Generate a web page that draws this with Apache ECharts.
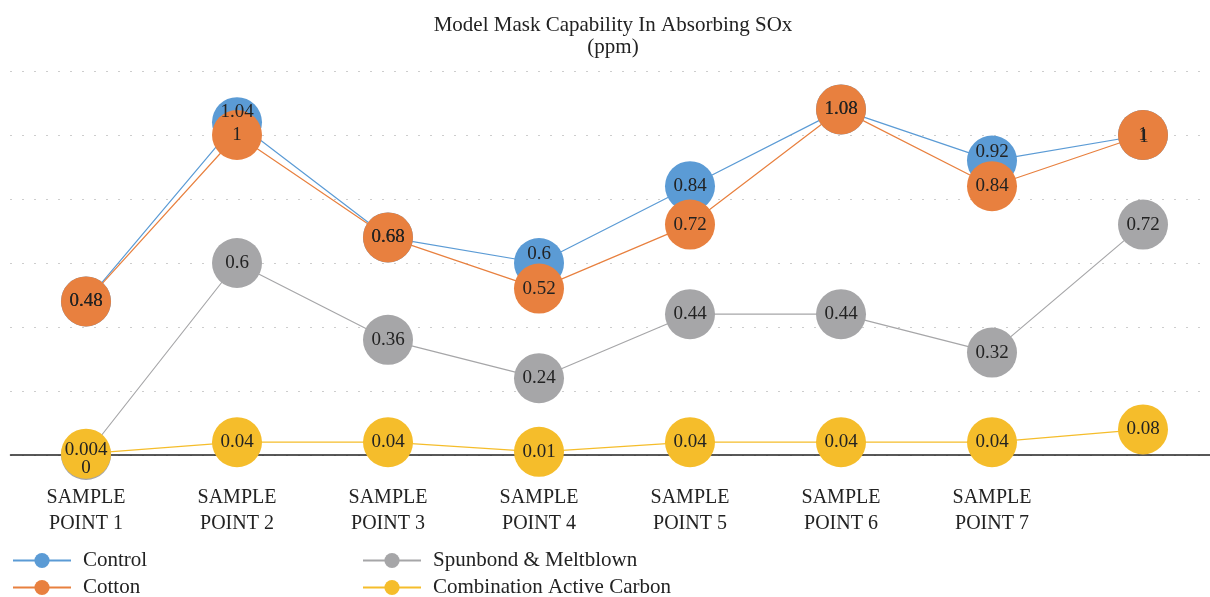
<!DOCTYPE html>
<html>
<head>
<meta charset="utf-8">
<script src="https://cdn.jsdelivr.net/npm/echarts@6/dist/echarts.min.js"></script>
<style>
    html, body { margin: 0; padding: 0; background: #fff; overflow: hidden; }
    #chart { width: 1226px; height: 597px; }
</style>
</head>
<body>
<div id="chart"></div>
<script>
    // categories (last point has no axis label)
    let categories = ['SAMPLE\nPOINT 1', 'SAMPLE\nPOINT 2', 'SAMPLE\nPOINT 3', 'SAMPLE\nPOINT 4',
        'SAMPLE\nPOINT 5', 'SAMPLE\nPOINT 6', 'SAMPLE\nPOINT 7', ''];

    let control = [0.48, 1.04, 0.68, 0.6, 0.84, 1.08, 0.92, 1];
    let cotton = [0.48, 1, 0.68, 0.52, 0.72, 1.08, 0.84, 1];
    let spunbond = [0, 0.6, 0.36, 0.24, 0.44, 0.44, 0.32, 0.72];
    let carbon = [0.004, 0.04, 0.04, 0.01, 0.04, 0.04, 0.04, 0.08];

    let seriesNames = ['Control', 'Cotton', 'Spunbond & Meltblown', 'Combination Active Carbon'];
    let seriesColors = ['#5b9bd5', '#e8803f', '#a6a6a8', '#f5bd2b'];

    let font = '"Liberation Serif", "DejaVu Serif", serif';
    let chart = echarts.init(document.getElementById('chart'));

    // shift a few labels where circles overlap, as in the original
    function withOffsets(values, offsets) {
        return values.map((v, i) => {
            if (offsets[i]) {
                return {value: v, label: {offset: offsets[i]}};
            }
            return v;
        });
    }

    let dataSets = [
        withOffsets(control, {1: [0, -10], 3: [0, -9], 6: [0, -9]}),
        withOffsets(cotton, {7: [1, 2]}),
        withOffsets(spunbond, {0: [0, 13]}),
        withOffsets(carbon, {0: [0, -4]})
    ];

    let seriesArr = [];
    seriesNames.forEach((name, idx) => {
        seriesArr.push({
            name: name,
            type: 'line',
            data: dataSets[idx],
            symbol: 'circle',
            symbolSize: 50,
            showAllSymbol: true,
            lineStyle: {color: seriesColors[idx], width: 1.2},
            itemStyle: {color: seriesColors[idx]},
            label: {
                show: true,
                position: 'inside',
                color: '#222',
                fontFamily: font,
                fontSize: 19
            },
            emphasis: {disabled: true}
        });
    });

    let legendCommon = {
        orient: 'vertical',
        top: 550,
        height: 60,
        padding: 0,
        itemWidth: 58,
        itemHeight: 19,
        itemGap: 6,
        textStyle: {fontFamily: font, fontSize: 21, color: '#222', padding: [0, 0, 0, 7]}
    };

    let option = {
        animation: false,
        title: {
            text: 'Model Mask Capability In Absorbing SOx\n(ppm)',
            left: 'center',
            top: 9,
            textStyle: {
                fontFamily: font,
                fontSize: 21,
                fontWeight: 'normal',
                color: '#222',
                lineHeight: 22
            }
        },
        legend: [
            Object.assign({}, legendCommon, {left: 12, data: seriesNames.slice(0, 2)}),
            Object.assign({}, legendCommon, {left: 362, data: seriesNames.slice(2)})
        ],
        grid: {
            left: 10.5,
            right: 7.5,
            top: 71,
            bottom: 142
        },
        xAxis: {
            type: 'category',
            data: categories,
            boundaryGap: true,
            axisTick: {show: false},
            axisLine: {lineStyle: {color: '#222', width: 1.5}},
            axisLabel: {
                interval: 0,
                margin: 30,
                fontFamily: font,
                fontSize: 20,
                lineHeight: 26,
                color: '#222'
            }
        },
        yAxis: {
            type: 'value',
            min: 0,
            max: 1.2,
            interval: 0.2,
            axisLabel: {show: false},
            axisLine: {show: false},
            axisTick: {show: false},
            splitLine: {lineStyle: {color: '#9a9a9a', type: [1, 11], width: 1}}
        },
        series: seriesArr
    };

    chart.setOption(option);
</script>
</body>
</html>
